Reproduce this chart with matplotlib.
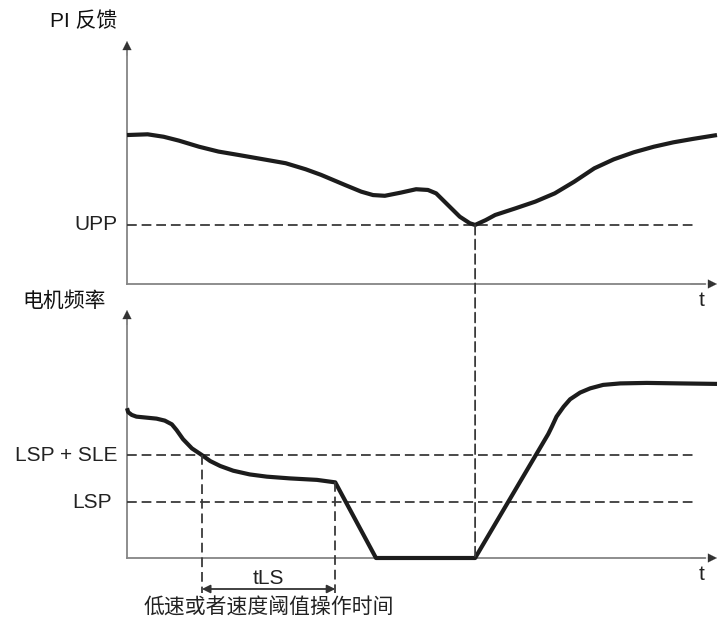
import matplotlib
matplotlib.use("Agg")
import matplotlib.pyplot as plt
from matplotlib.patches import ConnectionPatch

plt.rcParams["font.family"] = ["Liberation Sans", "Noto Sans CJK SC", "DejaVu Sans"]

# ---------------------------------------------------------------------------
# data (time axis 0..100, value axis 0..100)
# ---------------------------------------------------------------------------
pi_t = [0, 3.5, 6.2, 8.8, 12.2, 15.5, 18.9, 22.2, 26.9, 30.3, 32.9, 37.0, 39.7,
        41.7, 43.7, 46.4, 49.0, 51.0, 52.4, 54.4, 56.4, 58.1, 59.0, 60.8, 62.4,
        65.8, 69.2, 72.5, 75.8, 79.2, 82.5, 85.9, 89.3, 92.6, 95.9, 100]
pi_v = [61.3, 61.6, 60.6, 59.0, 56.5, 54.5, 53.1, 51.7, 49.7, 47.2, 44.9, 40.7, 38.0,
        36.6, 36.3, 37.6, 39.0, 38.7, 37.3, 32.5, 27.7, 25.0, 24.3, 26.3, 28.4,
        31.1, 33.9, 37.3, 42.1, 47.6, 51.3, 54.2, 56.5, 58.3, 59.7, 61.3]
UPP = 24.3

motor_t = [0, 0.2, 0.8, 1.6, 3.3, 5.0, 6.4, 7.6, 8.4, 9.5, 11.0, 12.7, 14.1, 15.8,
           18.0, 20.8, 23.7, 27.6, 32.2, 35.3, 42.2, 59.0, 71.4, 72.0, 72.8, 74.0,
           75.1, 76.8, 78.5, 80.7, 83.6, 88.1, 93.7, 100]
motor_v = [60.4, 58.8, 57.7, 57.0, 56.6, 56.2, 55.4, 53.9, 51.6, 47.9, 44.2, 41.5,
           39.1, 37.1, 35.2, 33.7, 32.8, 32.1, 31.5, 30.5, 0, 0, 50.0, 52.9, 57.0,
           61.0, 64.0, 66.7, 68.4, 69.8, 70.4, 70.6, 70.4, 70.2]
LSP_SLE = 41.5
LSP = 22.4

t_enter = 12.7    # 进入 LSP + SLE 区间
t_leave = 35.3    # tLS 结束
t_wake = 59.0     # PI 反馈触及 UPP

W, H = 719, 625
fig = plt.figure(figsize=(W / 100, H / 100), dpi=100)

# 轴位置按像素给出
ax1 = fig.add_axes([127 / W, (H - 284) / H, 590 / W, 243 / H])
ax2 = fig.add_axes([127 / W, (H - 558) / H, 590 / W, 248 / H])

AXIS_C = "#858585"
DASH_C = "#3a3a3a"
CURVE_C = "#1c1c1c"
DASH_PAT = (0, (5.4, 2.7))
dash_kw = dict(color=DASH_C, lw=1.3, linestyle=DASH_PAT)

for ax in (ax1, ax2):
    ax.set_xlim(0, 100)
    ax.set_ylim(0, 100)
    ax.axis("off")
    # 坐标轴 + 箭头
    ax.plot([0, 0], [0, 97], color=AXIS_C, lw=1.3, clip_on=False)
    ax.plot([0, 98], [0, 0], color=AXIS_C, lw=1.3, clip_on=False)
    ax.annotate("", xy=(0, 100), xytext=(0, 94), xycoords="data",
                arrowprops=dict(arrowstyle="-|>", color="#333333", lw=0.1,
                                mutation_scale=16, shrinkA=0, shrinkB=0),
                annotation_clip=False)
    ax.annotate("", xy=(100, 0), xytext=(95.5, 0), xycoords="data",
                arrowprops=dict(arrowstyle="-|>", color="#333333", lw=0.1,
                                mutation_scale=16, shrinkA=0, shrinkB=0),
                annotation_clip=False)
    ax.text(97.4, -3, "t", fontsize=15, ha="center", va="top", color="#222222")

# 上图：PI 反馈
ax1.plot([0, 96.6], [UPP, UPP], **dash_kw)
ax1.plot(pi_t, pi_v, color=CURVE_C, lw=3, solid_joinstyle="round",
         solid_capstyle="butt", clip_on=False)
ax1.annotate("UPP", xy=(0, UPP), xycoords=("axes fraction", "data"),
             xytext=(-7, 0), textcoords="offset points",
             ha="right", va="center", fontsize=15, color="#222222")

# 下图：电机频率
ax2.plot([0, 96.6], [LSP_SLE, LSP_SLE], **dash_kw)
ax2.plot([0, 96.6], [LSP, LSP], **dash_kw)
ax2.plot(motor_t, motor_v, color=CURVE_C, lw=3, solid_joinstyle="round",
         solid_capstyle="butt", clip_on=False)
ax2.annotate("LSP + SLE", xy=(0, LSP_SLE), xycoords=("axes fraction", "data"),
             xytext=(-7, 0), textcoords="offset points",
             ha="right", va="center", fontsize=15, color="#222222")
ax2.annotate("LSP", xy=(0, LSP), xycoords=("axes fraction", "data"),
             xytext=(-11, 0), textcoords="offset points",
             ha="right", va="center", fontsize=15, color="#222222")

# tLS 标注
ax2.plot([t_enter, t_enter], [LSP_SLE, -14.3], clip_on=False, **dash_kw)
ax2.plot([t_leave, t_leave], [motor_v[19], -14.3], clip_on=False, **dash_kw)
ax2.annotate("", xy=(t_enter, -12.5), xytext=(t_leave, -12.5),
             arrowprops=dict(arrowstyle="<|-|>", color="#333333", lw=1.3,
                             mutation_scale=12, shrinkA=0, shrinkB=0),
             annotation_clip=False)
ax2.text((t_enter + t_leave) / 2, -8.2, "tLS", fontsize=15, ha="center",
         va="center", color="#222222")
ax2.text((t_enter + t_leave) / 2, -20.2, "低速或者速度阈值操作时间", fontsize=15,
         ha="center", va="center", color="#222222")

# 上下图之间的竖直虚线
con = ConnectionPatch(xyA=(t_wake, UPP), coordsA=ax1.transData,
                      xyB=(t_wake, 0), coordsB=ax2.transData, **dash_kw)
fig.add_artist(con)

# 纵轴标题
fig.text(117 / W, 1 - 21 / H, "PI 反馈", fontsize=15, ha="right", va="center",
         color="#111111")
fig.text(106 / W, 1 - 301 / H, "电机频率", fontsize=15, ha="right", va="center",
         color="#111111")

fig.savefig("out.png", dpi=100)
